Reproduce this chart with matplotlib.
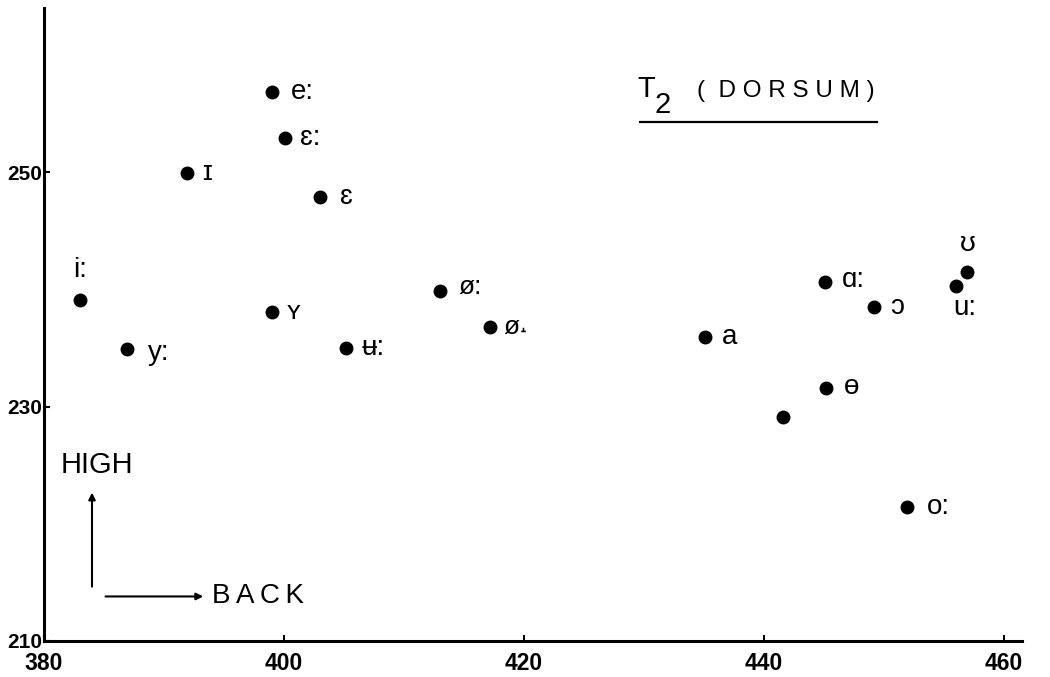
import matplotlib
matplotlib.use('Agg')
import matplotlib.pyplot as plt

### vowel positions for the T2 (dorsum) pellet
vowels = ['i:', 'y:', 'ɪ', 'e:', 'ɛ:', 'ɛ', 'ʏ', 'ʉ:', 'ø:', 'ø˔', 'a', 'ɑ:', 'ɔ', 'ɵ', '', 'o:', 'u:', 'ʊ']
back = [383.0, 386.9, 391.9, 399.0, 400.1, 403.0, 399.0, 405.2, 413.0, 417.2, 435.1, 445.1, 449.2, 445.2, 441.6, 451.9, 456.0, 456.9]
high = [239.1, 234.9, 249.9, 256.8, 252.9, 247.9, 238.1, 235.0, 239.9, 236.8, 235.9, 240.6, 238.5, 231.6, 229.1, 221.4, 240.3, 241.5]

x_ticks = [380, 400, 420, 440, 460]
y_ticks = [210, 230, 250]

### label offsets (pixels) and sizes for each vowel
offsets = [(0, 30), (21, -4), (15, 0), (19, 0), (15, 0), (20, 0), (15, 0), (15, 0),
           (18, 4), (13, 0), (17, 0), (17, 2), (16, 0), (17, 1), (0, 0), (20, 0),
           (9, -22), (1, 28)]
sizes = [20, 20, 20, 20, 20, 20, 19, 20, 19, 19, 20, 20, 20, 20, 20, 20, 20, 20]

label_font = ['Liberation Sans', 'DejaVu Sans']

fig = plt.figure(figsize=(10.5, 6.77), dpi=100)
ax = fig.add_axes([44 / 1050, 36 / 677, 978 / 1050, 633 / 677])

### points
ax.plot(back, high, 'o', color='black', markersize=9, linestyle='none')

for v, x, y, (dx, dy), s in zip(vowels, back, high, offsets, sizes):
    if not v:
        continue
    ha = 'center' if dx < 12 else 'left'
    ax.annotate(v, (x, y), xytext=(dx, dy), textcoords='offset pixels',
                ha=ha, va='center', fontsize=s, family=label_font, color='black')

### axes limits and spines
ax.set_xlim(380, 461.5)
ax.set_ylim(210, 264)
ax.spines['top'].set_visible(False)
ax.spines['right'].set_visible(False)
ax.spines['left'].set_linewidth(2.2)
ax.spines['bottom'].set_linewidth(2.2)

ax.set_xticks(x_ticks)
ax.set_yticks(y_ticks)
ax.tick_params(axis='both', direction='in', length=4, width=1.5)
ax.tick_params(axis='x', pad=8)
ax.tick_params(axis='y', pad=1)
for lab in ax.get_xticklabels():
    lab.set_family(['Liberation Sans', 'DejaVu Sans'])
    lab.set_fontweight('bold')
    lab.set_fontsize(16.5)
for lab in ax.get_yticklabels():
    lab.set_family(['Liberation Sans', 'DejaVu Sans'])
    lab.set_fontweight('bold')
    lab.set_fontsize(15)

### title with underline
ax.text(637 / 1050, 1 - 97 / 677, 'T', transform=fig.transFigure, fontsize=21,
        family=label_font, ha='left', va='baseline')
ax.text(655 / 1050, 1 - 113 / 677, '2', transform=fig.transFigure, fontsize=21,
        family=label_font, ha='left', va='baseline')
ax.text(697 / 1050, 1 - 97 / 677, '(  D O R S U M )', transform=fig.transFigure,
        fontsize=17.5, family=label_font, ha='left', va='baseline')
fig.add_artist(plt.Line2D([640 / 1050, 877 / 1050], [1 - 122 / 677, 1 - 122 / 677],
                          color='black', linewidth=1.6))

### direction key
ax.annotate('', xy=(384.0, 222.9), xytext=(384.0, 214.4),
            arrowprops=dict(arrowstyle='-|>', color='black', lw=1.5, mutation_scale=10))
ax.annotate('', xy=(393.5, 213.8), xytext=(384.9, 213.8),
            arrowprops=dict(arrowstyle='-|>', color='black', lw=1.5, mutation_scale=10))
ax.text(384.4, 225.0, 'HIGH', fontsize=21, family=label_font, ha='center', va='center')
ax.text(394.0, 213.8, 'B\u2009A\u2009C\u2009K', fontsize=20, family=label_font, ha='left', va='center')

plt.savefig('out.png', dpi=100)
plt.close(fig)
